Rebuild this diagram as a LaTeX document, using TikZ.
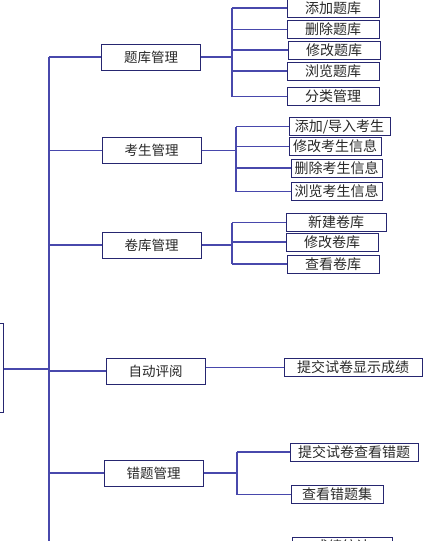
\documentclass[tikz,border=0pt]{standalone}
\usepackage{fontspec}
\newfontfamily\cjk{Noto Sans CJK SC}
\usepackage{tikz}
\usetikzlibrary{positioning}
\usepackage{xcolor}
\definecolor{linkBlue}{RGB}{72, 72, 172}
\definecolor{boxNavy}{RGB}{38, 38, 112}
\definecolor{textGray}{RGB}{40, 40, 40}
\tikzset{
    link/.style={draw=linkBlue, line width=1.1pt},
    modbox/.style={draw=boxNavy, line width=1pt, fill=white, inner sep=0pt,
        minimum width=99pt, minimum height=26pt, text=textGray,
        font=\cjk\fontsize{13.5}{15}\selectfont},
    funbox/.style={draw=boxNavy, line width=1pt, fill=white, inner sep=0pt,
        minimum width=92pt, minimum height=18pt, text=textGray,
        font=\cjk\fontsize{14}{16}\selectfont}
}

\begin{document}
\begin{tikzpicture}[x=1pt, y=-1pt]
    \useasboundingbox (0,0) rectangle (424,541);
    \clip (0,0) rectangle (424,541);

    % Root box and main trunk
    \node[draw=boxNavy, line width=1pt, minimum width=60pt, minimum height=89pt] (root) at (-27,367.5) {};
    \coordinate (trunkTop) at (49,57);
    \coordinate (trunkEnd) at (49,560);
    \draw[link] (trunkTop) -- (trunkEnd);
    \draw[link] (root.east |- 0,369) -- (trunkTop |- 0,369);

    % Module boxes
    \node[modbox] (tiku)     at (151,57)    {题库管理};
    \node[modbox] (kaosheng) at (151.5,150.5) {考生管理};
    \node[modbox] (juanku)   at (151.5,245) {卷库管理};
    \node[modbox] (pingyue)  at (155.5,371) {自动评阅};
    \node[modbox] (cuoti)    at (153.5,473) {错题管理};
    \foreach \m in {tiku,kaosheng,juanku,pingyue,cuoti}
        \draw[link] (trunkTop |- \m.west) -- (\m.west);

    % Functions of 题库管理
    \node[funbox] (a1) at (333,8)    {添加题库};
    \node[funbox] (a2) at (333,29.5) {删除题库};
    \node[funbox] (a3) at (334,50)   {修改题库};
    \node[funbox] (a4) at (333,71)   {浏览题库};
    \node[funbox] (a5) at (333,96.5) {分类管理};
    \coordinate (tikuBus) at (232,0);
    \draw[link] (tiku.east) -- (tiku.east -| tikuBus);
    \draw[link] (tikuBus |- a1.west) -- (tikuBus |- a5.west);
    \foreach \n in {a1,a2,a3,a4,a5}
        \draw[link] (tikuBus |- \n.west) -- (\n.west);

    % Functions of 考生管理
    \node[funbox, minimum width=101pt] (b1) at (339.5,126.5) {添加/导入考生};
    \node[funbox] (b2) at (335,146.5)   {修改考生信息};
    \node[funbox, minimum width=91pt] (b3) at (336.5,168)   {删除考生信息};
    \node[funbox, minimum width=91pt] (b4) at (336.5,191.5) {浏览考生信息};
    \coordinate (kaoshengBus) at (236,0);
    \draw[link] (kaosheng.east) -- (kaosheng.east -| kaoshengBus);
    \draw[link] (kaoshengBus |- b1.west) -- (kaoshengBus |- b4.west);
    \foreach \n in {b1,b2,b3,b4}
        \draw[link] (kaoshengBus |- \n.west) -- (\n.west);

    % Functions of 卷库管理
    \node[funbox, minimum width=100pt] (c1) at (336,222.5) {新建卷库};
    \node[funbox] (c2) at (332,242) {修改卷库};
    \node[funbox] (c3) at (333,264) {查看卷库};
    \coordinate (juankuBus) at (232,0);
    \draw[link] (juanku.east) -- (juanku.east -| juankuBus);
    \draw[link] (juankuBus |- c1.west) -- (juankuBus |- c3.west);
    \foreach \n in {c1,c2,c3}
        \draw[link] (juankuBus |- \n.west) -- (\n.west);

    % Function of 自动评阅
    \node[funbox, minimum width=138pt] (d1) at (353,367.5) {提交试卷显示成绩};
    \draw[link] (pingyue.east |- d1.west) -- (d1.west);

    % Functions of 错题管理
    \node[funbox, minimum width=128pt] (e1) at (354,452) {提交试卷查看错题};
    \node[funbox] (e2) at (337,494.5) {查看错题集};
    \node[funbox, minimum width=100pt] (e3) at (342,546) {成绩统计};
    \coordinate (cuotiBus) at (237,0);
    \draw[link] (cuoti.east) -- (cuoti.east -| cuotiBus);
    \draw[link] (cuotiBus |- e1.west) -- (cuotiBus |- e2.west);
    \foreach \n in {e1,e2}
        \draw[link] (cuotiBus |- \n.west) -- (\n.west);
\end{tikzpicture}
\end{document}
